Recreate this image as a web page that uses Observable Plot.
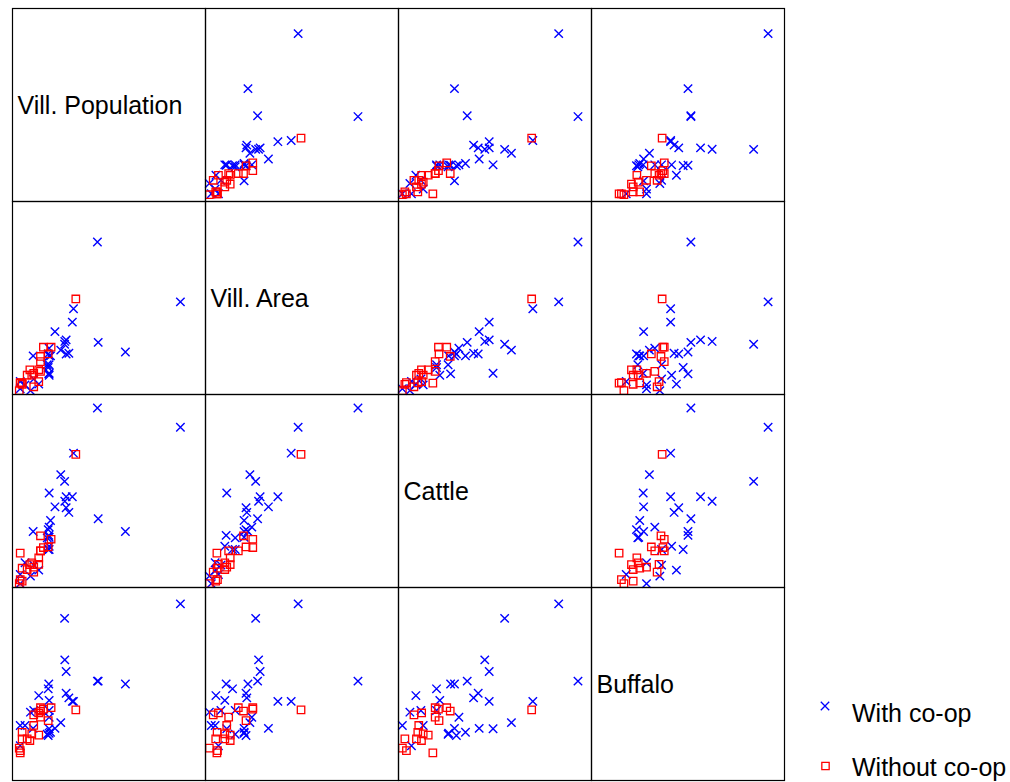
<!DOCTYPE html>
<html><head><meta charset="utf-8">
<script src="https://cdn.jsdelivr.net/npm/d3@7"></script>
<script src="https://cdn.jsdelivr.net/npm/@observablehq/plot@0.6"></script>
<style>
body{margin:0;background:#fff;font-family:"Liberation Sans",Arial,sans-serif;}
#wrap{position:relative;width:1010px;height:782px;overflow:hidden;background:#fff;}
#chart{position:absolute;left:0;top:0;}
#legend{position:absolute;left:0;top:0;}
</style></head><body>
<div id="wrap"><div id="chart"></div><svg id="legend" width="1010" height="782"></svg></div>
<script>
const variables = ["Vill. Population", "Vill. Area", "Cattle", "Buffalo"];
const groups = ["With co-op", "Without co-op"];

// With co-op villages (index units, 0-100 of each variable's plotting range)
const withPop     = [87, 58.5, 44.4, 44, 27, 31.6, 31, 22, 27.8, 27.1, 25, 19, 27.8, 29.2, 19.7, 18.5, 19, 18, 19, 18.8, 19, 18.5, 19, 6.5, 11, 13.6, 9.3, 4, 4, 10.7];
const withArea    = [48, 22, 27, 79, 26, 44.4, 37.5, 32.6, 28.3, 27.5, 23, 11, 21, 21.4, 20, 21, 20, 15.4, 24, 10.7, 10, 14, 15.4, 5, 8, 5.4, 2, 3, 6.7, 20];
const withCattle  = [83, 29, 35.6, 93, 55, 69.6, 47, 41.8, 47, 44.7, 58.5, 49, 41.3, 38.9, 34.7, 30, 26, 25.7, 31.3, 27, 21.4, 19.7, 19.7, 12.8, 11.6, 9, 5.9, 2, 6.7, 29];
const withBuffalo = [91.5, 50, 51.5, 51.5, 84, 41, 41, 27, 56.5, 62.5, 30, 26.8, 45.2, 42.8, 25, 23.3, 24.5, 24, 32.8, 50, 41.5, 47.5, 36.3, 28.5, 36.3, 44, 35.4, 28.5, 18, 27];

// Without co-op villages
const withoutPop     = [32.8, 20, 14.5, 14.5, 18.5, 14.5, 16, 13.6, 11, 11, 13.6, 10, 9, 7.6, 5, 5, 4, 3.5, 4];
const withoutArea    = [49.5, 24.5, 17, 19.7, 21, 12, 24.5, 6.7, 4, 11, 12.8, 10, 12.8, 10, 6, 5.3, 6.2, 2, 5.9];
const withoutCattle  = [69, 25, 19, 26.8, 21, 19, 20.7, 12, 8, 10.5, 15.4, 12.8, 11.9, 9.3, 10, 3.3, 4.1, 2, 17.8];
const withoutBuffalo = [36.6, 37.7, 37.7, 36, 31, 32.8, 37, 35, 34, 28.5, 23.5, 24.2, 20.7, 21.6, 25, 21.6, 15.5, 16.8, 14.3];

function villages(pop, area, cattle, buf, group) {
  return pop.map((p, k) => ({group, vals: [p, area[k], cattle[k], buf[k]]}));
}
const allVillages = [
  ...villages(withPop, withArea, withCattle, withBuffalo, groups[0]),
  ...villages(withoutPop, withoutArea, withoutCattle, withoutBuffalo, groups[1])
];
const pairs = [];
for (const v of allVillages) {
  for (let i = 0; i < 4; i++) for (let j = 0; j < 4; j++) {
    if (i === j) continue;
    pairs.push({group: v.group, col: variables[j], row: variables[i], x: v.vals[j], y: v.vals[i]});
  }
}
const font = "'Liberation Sans', Arial, Helvetica, sans-serif";

const chart = Plot.plot({
  width: 786, height: 782,
  marginLeft: 11, marginTop: 8, marginRight: 1, marginBottom: 2,
  x: {domain: [0, 100], axis: null},
  y: {domain: [0, 100], axis: null},
  fx: {domain: variables, axis: null, padding: 0},
  fy: {domain: variables, axis: null, padding: 0},
  style: {fontFamily: font, background: "white", overflow: "visible"},
  marks: [
    Plot.dot(pairs.filter(d => d.group === groups[0]), {fx: "col", fy: "row", x: "x", y: "y", symbol: "times", r: 3.9, stroke: "#0000ff", strokeWidth: 1.4}),
    Plot.dot(pairs.filter(d => d.group === groups[1]), {fx: "col", fy: "row", x: "x", y: "y", symbol: "square", r: 4.2, stroke: "#ff0000", fill: "none", strokeWidth: 1.3}),
    Plot.text(variables, {fx: d => d, fy: d => d, text: d => d, frameAnchor: "left", textAnchor: "start", dx: 5, dy: 1, fontSize: 25, fill: "black"}),
    Plot.frame({stroke: "black", strokeWidth: 1.2})
  ]
});
document.getElementById("chart").appendChild(chart);

// Legend
const leg = d3.select("#legend");
const legendItems = [
  {label: groups[0], sym: d3.symbolTimes, size: 48, color: "#0000ff", cx: 825, cy: 706, base: 722},
  {label: groups[1], sym: d3.symbolSquare, size: 54, color: "#ff0000", cx: 825.5, cy: 766, base: 776}
];
for (const it of legendItems) {
  leg.append("path").attr("d", d3.symbol(it.sym, it.size)()).attr("transform", `translate(${it.cx},${it.cy})`)
    .attr("fill", "none").attr("stroke", it.color).attr("stroke-width", 1.3);
  leg.append("text").attr("x", 852).attr("y", it.base).attr("font-family", font).attr("font-size", 25)
    .attr("fill", "black").text(it.label);
}
</script>
</body></html>
